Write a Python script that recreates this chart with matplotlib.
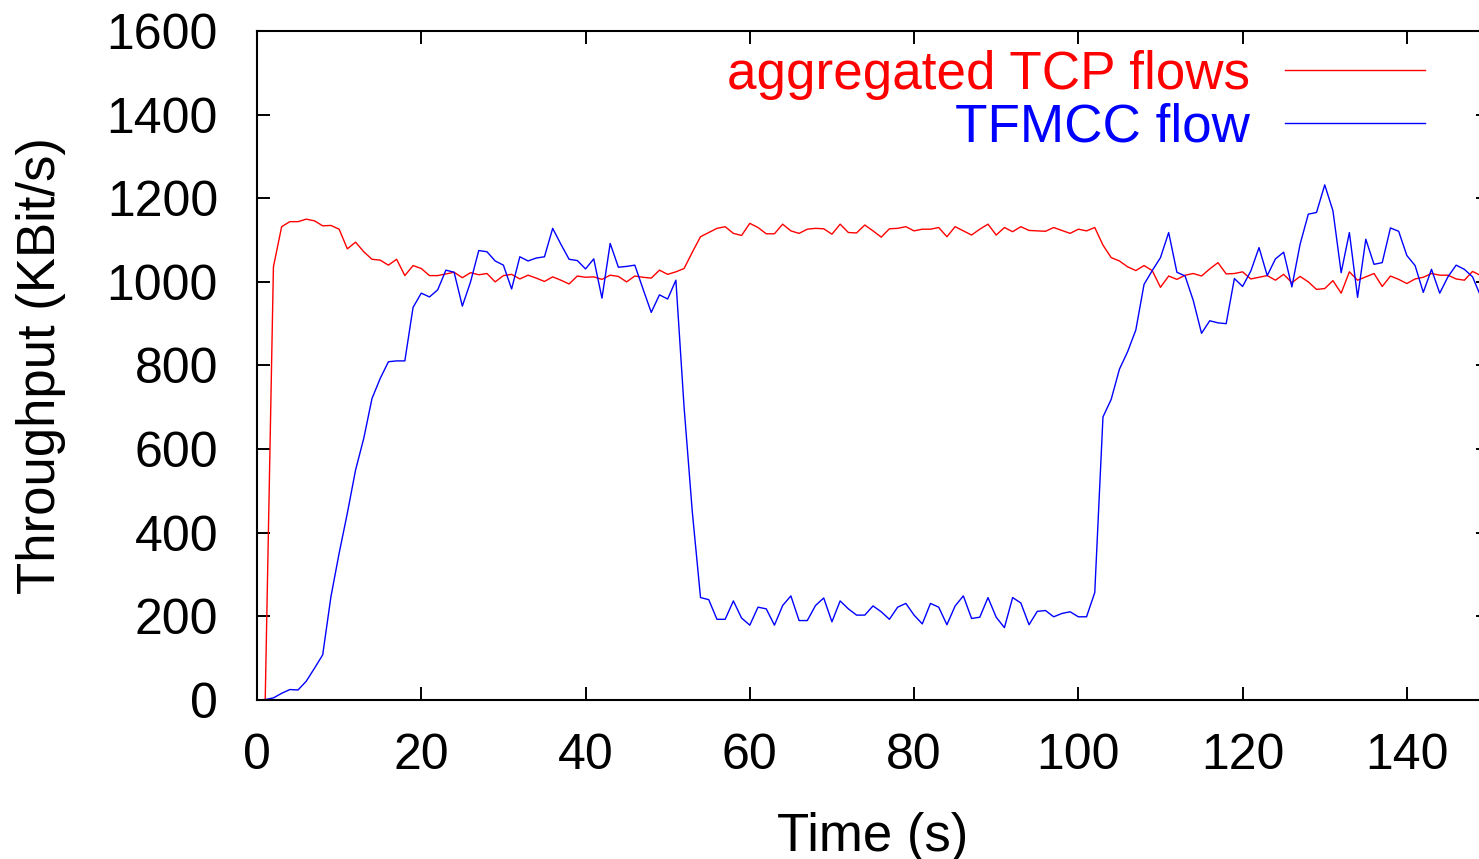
import matplotlib
matplotlib.use('Agg')
import matplotlib.pyplot as plt
import numpy as np

# one sample per second
time = np.arange(0, 150)

tcp = [0, 0, 1036, 1132, 1144, 1144, 1150, 1146, 1134, 1135,
       1126, 1079, 1095, 1072, 1054, 1052, 1040, 1054, 1015, 1039,
       1032, 1015, 1015, 1019, 1023, 1010, 1022, 1017, 1020, 1000,
       1015, 1018, 1007, 1016, 1009, 1001, 1012, 1004, 995, 1014,
       1011, 1012, 1006, 1016, 1013, 1000, 1014, 1011, 1009, 1028,
       1018, 1024, 1032, 1071, 1108, 1118, 1128, 1132, 1116, 1111,
       1140, 1130, 1115, 1115, 1138, 1122, 1116, 1126, 1128, 1127,
       1114, 1138, 1118, 1117, 1136, 1122, 1107, 1127, 1128, 1132,
       1122, 1126, 1126, 1130, 1108, 1132, 1122, 1112, 1126, 1138,
       1112, 1130, 1120, 1132, 1123, 1122, 1121, 1130, 1123, 1116,
       1126, 1122, 1130, 1088, 1058, 1050, 1036, 1027, 1039, 1027,
       987, 1014, 1006, 1016, 1020, 1014, 1031, 1046, 1019, 1020,
       1024, 1007, 1011, 1015, 1004, 1018, 998, 1013, 1000, 982,
       984, 1003, 973, 1024, 1004, 1012, 1020, 989, 1014, 1006,
       996, 1007, 1011, 1020, 1016, 1016, 1007, 1004, 1025, 1015]

tfmcc = [0, 1, 5, 16, 25, 24, 45, 76, 108, 247,
         351, 447, 550, 626, 721, 769, 809, 811, 811, 939,
         973, 964, 981, 1028, 1023, 942, 1000, 1075, 1072, 1050,
         1040, 983, 1060, 1050, 1057, 1060, 1128, 1090, 1054, 1051,
         1031, 1055, 961, 1092, 1035, 1037, 1040, 983, 927, 969,
         959, 1004, 700, 450, 245, 240, 193, 193, 237, 196,
         179, 222, 218, 179, 226, 249, 190, 190, 226, 244,
         187, 237, 218, 203, 203, 225, 211, 193, 222, 231,
         203, 182, 231, 222, 180, 225, 249, 195, 198, 245,
         198, 173, 245, 232, 180, 212, 214, 199, 207, 211,
         199, 199, 257, 677, 719, 791, 833, 885, 994, 1027,
         1058, 1118, 1023, 1014, 955, 877, 907, 902, 900, 1008,
         989, 1026, 1082, 1015, 1055, 1071, 988, 1090, 1162, 1166,
         1232, 1170, 1022, 1118, 963, 1102, 1042, 1046, 1129, 1121,
         1063, 1039, 975, 1030, 973, 1012, 1040, 1030, 1012, 965]

labels = ['aggregated TCP flows', 'TFMCC flow']
xticks = [0, 20, 40, 60, 80, 100, 120, 140]
yticks = [0, 200, 400, 600, 800, 1000, 1200, 1400, 1600]

plt.rcParams['font.family'] = ['Liberation Sans', 'DejaVu Sans']

W, H = 1479, 859
fig = plt.figure(figsize=(W / 100, H / 100), dpi=100)
# the plot box runs past the right edge of the picture (x range 0..150)
ax = fig.add_axes([257 / W, (H - 700) / H, 1232 / W, 669 / H])

ax.plot(time, tcp, color='#ff0000', lw=1.0, label=labels[0])
ax.plot(time, tfmcc, color='#0000ff', lw=1.0, label=labels[1])

ax.set_xlim(0, 150)
ax.set_ylim(0, 1600)
ax.set_xticks(xticks)
ax.set_yticks(yticks)
ax.tick_params(direction='in', length=9.5, width=1.4, top=True, right=True,
               labelsize=36, colors='black')
ax.tick_params(axis='x', pad=24)
ax.tick_params(axis='y', pad=28)
for s in ax.spines.values():
    s.set_linewidth(1.5)

ax.set_xlabel('Time (s)', fontsize=38)
ax.set_ylabel('Throughput (KBit/s)', fontsize=38)
ax.xaxis.set_label_coords(0.5, -0.167)
ax.yaxis.set_label_coords(-0.155, 0.5)

ax.legend(loc='upper right', bbox_to_anchor=(1425 / W, 1 - 50 / H),
          bbox_transform=fig.transFigure, frameon=False, fontsize=38.2,
          markerfirst=False, labelcolor='linecolor', handlelength=2.64,
          handletextpad=0.66, labelspacing=0.04, borderpad=0,
          borderaxespad=0)

fig.savefig('out.png', dpi=100)
